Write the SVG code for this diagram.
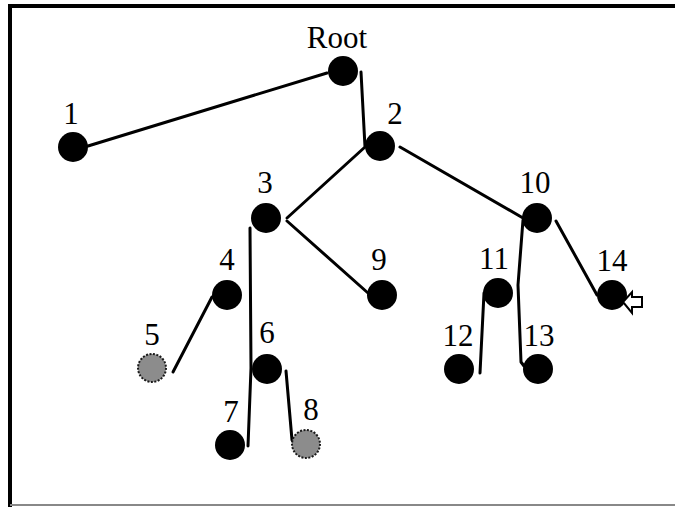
<svg xmlns="http://www.w3.org/2000/svg" width="675" height="507" viewBox="0 0 675 507">
  <style>
    .edge { fill: none; stroke: #000; stroke-width: 3; stroke-linecap: round; stroke-linejoin: round; }
    .node { fill: #000; }
    .leaf { fill: #8c8c8c; stroke: #1a1a1a; stroke-width: 2; stroke-dasharray: 2 1.5; }
    .label { font-family: "Liberation Serif", "Times New Roman", serif; font-size: 31px; fill: #000; text-anchor: middle; }
  </style>

  <!-- page background and frame -->
  <rect x="0" y="0" width="675" height="507" fill="#ffffff"/>
  <line x1="8" y1="6" x2="675" y2="6" stroke="#000" stroke-width="4"/>
  <line x1="10" y1="4" x2="10" y2="507" stroke="#000" stroke-width="4"/>
  <line x1="10" y1="505" x2="675" y2="505" stroke="#888" stroke-width="2"/>

  <!-- tree edges -->
  <g id="connectors">
    <line class="edge" x1="88" y1="146" x2="327" y2="73"/>
    <polyline class="edge" points="361,72 365,147 287,218"/>
    <line class="edge" x1="400" y1="147" x2="523" y2="218"/>
    <line class="edge" x1="287" y1="221" x2="368" y2="293"/>
    <polyline class="edge" points="250,228 251,368 248,446"/>
    <line class="edge" x1="212" y1="297" x2="173" y2="372"/>
    <polyline class="edge" points="286,371 292,440 296,446"/>
    <polyline class="edge" points="523,220 518,285 521,362 524,366"/>
    <line class="edge" x1="556" y1="221" x2="597" y2="295"/>
    <polyline class="edge" points="484,293 480,373"/>
  </g>

  <!-- nodes -->
  <g id="node-root"><circle class="node" cx="343" cy="71" r="15"/><text class="label" x="337" y="48">Root</text></g>
  <g id="node-1"><circle class="node" cx="73" cy="147" r="15"/><text class="label" x="71" y="124">1</text></g>
  <g id="node-2"><circle class="node" cx="380" cy="146" r="15"/><text class="label" x="395" y="124">2</text></g>
  <g id="node-3"><circle class="node" cx="266" cy="218" r="15"/><text class="label" x="265" y="193">3</text></g>
  <g id="node-4"><circle class="node" cx="227" cy="295" r="15"/><text class="label" x="227" y="270">4</text></g>
  <g id="node-5"><circle class="leaf" cx="152" cy="368" r="14"/><text class="label" x="152" y="345">5</text></g>
  <g id="node-6"><circle class="node" cx="267" cy="369" r="15"/><text class="label" x="267" y="343">6</text></g>
  <g id="node-7"><circle class="node" cx="230" cy="445" r="15"/><text class="label" x="231" y="422">7</text></g>
  <g id="node-8"><circle class="leaf" cx="306" cy="444" r="14"/><text class="label" x="311" y="420">8</text></g>
  <g id="node-9"><circle class="node" cx="382" cy="295" r="15"/><text class="label" x="379" y="270">9</text></g>
  <g id="node-10"><circle class="node" cx="537" cy="218" r="15"/><text class="label" x="535" y="193">10</text></g>
  <g id="node-11"><circle class="node" cx="498" cy="293" r="15"/><text class="label" x="494" y="269">11</text></g>
  <g id="node-12"><circle class="node" cx="459" cy="369" r="15"/><text class="label" x="458" y="346">12</text></g>
  <g id="node-13"><circle class="node" cx="538" cy="369" r="15"/><text class="label" x="539" y="346">13</text></g>
  <g id="node-14">
    <circle class="node" cx="612" cy="295" r="15"/>
    <text class="label" x="612" y="271">14</text>
    <!-- hollow pointer arrow aimed at node 14 -->
    <polygon points="623,302 632,292 632,297 642,297 642,307 632,307 632,313" fill="#fff" stroke="#000" stroke-width="2" stroke-linejoin="miter"/>
  </g>
</svg>
